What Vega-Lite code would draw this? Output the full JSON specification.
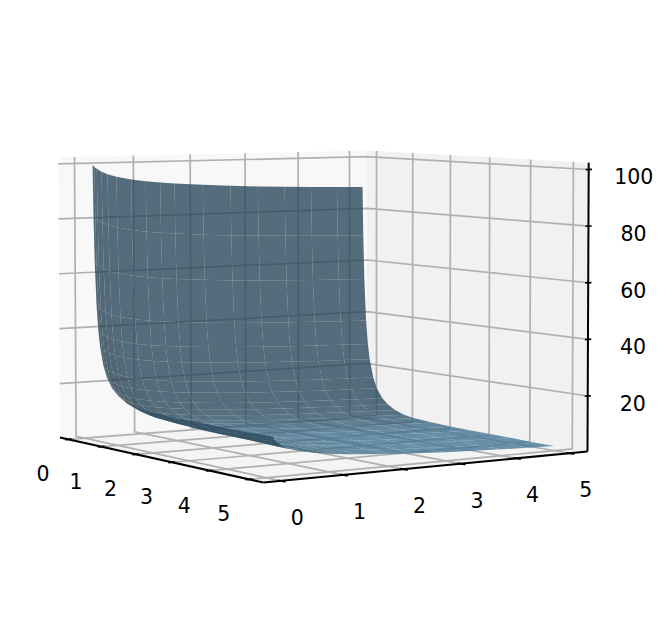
{"$schema":"https://vega.github.io/schema/vega-lite/v6.json","width":672,"height":623,"autosize":{"type":"fit","contains":"padding"},"padding":0,"background":"white","view":{"stroke":null},
"data":{"values":[
{"k":"P","g":"L","a":-0.27,"b":-0.27,"z":0.4},{"k":"P","g":"L","a":-0.27,"b":5.348,"z":0.4},{"k":"P","g":"L","a":-0.27,"b":5.348,"z":102.4},{"k":"P","g":"L","a":-0.27,"b":-0.27,"z":102.4},
{"k":"P","g":"R","a":-0.27,"b":5.348,"z":0.4},{"k":"P","g":"R","a":5.348,"b":5.348,"z":0.4},{"k":"P","g":"R","a":5.348,"b":5.348,"z":102.4},{"k":"P","g":"R","a":-0.27,"b":5.348,"z":102.4},
{"k":"P","g":"F","a":-0.27,"b":-0.27,"z":0.4},{"k":"P","g":"F","a":5.348,"b":-0.27,"z":0.4},{"k":"P","g":"F","a":5.348,"b":5.348,"z":0.4},{"k":"P","g":"F","a":-0.27,"b":5.348,"z":0.4},
{"k":"G","g":"a0","a":0,"b":-0.27,"z":0.4},{"k":"G","g":"a0","a":0,"b":5.348,"z":0.4},{"k":"G","g":"a0","a":0,"b":5.348,"z":102.4},
{"k":"G","g":"a1","a":1,"b":-0.27,"z":0.4},{"k":"G","g":"a1","a":1,"b":5.348,"z":0.4},{"k":"G","g":"a1","a":1,"b":5.348,"z":102.4},
{"k":"G","g":"a2","a":2,"b":-0.27,"z":0.4},{"k":"G","g":"a2","a":2,"b":5.348,"z":0.4},{"k":"G","g":"a2","a":2,"b":5.348,"z":102.4},
{"k":"G","g":"a3","a":3,"b":-0.27,"z":0.4},{"k":"G","g":"a3","a":3,"b":5.348,"z":0.4},{"k":"G","g":"a3","a":3,"b":5.348,"z":102.4},
{"k":"G","g":"a4","a":4,"b":-0.27,"z":0.4},{"k":"G","g":"a4","a":4,"b":5.348,"z":0.4},{"k":"G","g":"a4","a":4,"b":5.348,"z":102.4},
{"k":"G","g":"a5","a":5,"b":-0.27,"z":0.4},{"k":"G","g":"a5","a":5,"b":5.348,"z":0.4},{"k":"G","g":"a5","a":5,"b":5.348,"z":102.4},
{"k":"G","g":"b0","a":5.348,"b":0,"z":0.4},{"k":"G","g":"b0","a":-0.27,"b":0,"z":0.4},{"k":"G","g":"b0","a":-0.27,"b":0,"z":102.4},
{"k":"G","g":"b1","a":5.348,"b":1,"z":0.4},{"k":"G","g":"b1","a":-0.27,"b":1,"z":0.4},{"k":"G","g":"b1","a":-0.27,"b":1,"z":102.4},
{"k":"G","g":"b2","a":5.348,"b":2,"z":0.4},{"k":"G","g":"b2","a":-0.27,"b":2,"z":0.4},{"k":"G","g":"b2","a":-0.27,"b":2,"z":102.4},
{"k":"G","g":"b3","a":5.348,"b":3,"z":0.4},{"k":"G","g":"b3","a":-0.27,"b":3,"z":0.4},{"k":"G","g":"b3","a":-0.27,"b":3,"z":102.4},
{"k":"G","g":"b4","a":5.348,"b":4,"z":0.4},{"k":"G","g":"b4","a":-0.27,"b":4,"z":0.4},{"k":"G","g":"b4","a":-0.27,"b":4,"z":102.4},
{"k":"G","g":"b5","a":5.348,"b":5,"z":0.4},{"k":"G","g":"b5","a":-0.27,"b":5,"z":0.4},{"k":"G","g":"b5","a":-0.27,"b":5,"z":102.4},
{"k":"G","g":"z20","a":-0.27,"b":-0.27,"z":20},{"k":"G","g":"z20","a":-0.27,"b":5.348,"z":20},{"k":"G","g":"z20","a":5.348,"b":5.348,"z":20},
{"k":"G","g":"z40","a":-0.27,"b":-0.27,"z":40},{"k":"G","g":"z40","a":-0.27,"b":5.348,"z":40},{"k":"G","g":"z40","a":5.348,"b":5.348,"z":40},
{"k":"G","g":"z60","a":-0.27,"b":-0.27,"z":60},{"k":"G","g":"z60","a":-0.27,"b":5.348,"z":60},{"k":"G","g":"z60","a":5.348,"b":5.348,"z":60},
{"k":"G","g":"z80","a":-0.27,"b":-0.27,"z":80},{"k":"G","g":"z80","a":-0.27,"b":5.348,"z":80},{"k":"G","g":"z80","a":5.348,"b":5.348,"z":80},
{"k":"G","g":"z100","a":-0.27,"b":-0.27,"z":100},{"k":"G","g":"z100","a":-0.27,"b":5.348,"z":100},{"k":"G","g":"z100","a":5.348,"b":5.348,"z":100},
{"k":"X","g":"xa","a":-0.27,"b":-0.27,"z":0.4},{"k":"X","g":"xa","a":5.348,"b":-0.27,"z":0.4},
{"k":"X","g":"xb","a":5.348,"b":-0.27,"z":0.4},{"k":"X","g":"xb","a":5.348,"b":5.348,"z":0.4},
{"k":"X","g":"xz","a":5.348,"b":5.348,"z":0.4},{"k":"X","g":"xz","a":5.348,"b":5.348,"z":102.4},
{"k":"T","g":"ta0","a":0,"b":-0.33,"z":0.4},{"k":"T","g":"ta0","a":0,"b":-0.22,"z":0.4},
{"k":"T","g":"ta1","a":1,"b":-0.33,"z":0.4},{"k":"T","g":"ta1","a":1,"b":-0.22,"z":0.4},
{"k":"T","g":"ta2","a":2,"b":-0.33,"z":0.4},{"k":"T","g":"ta2","a":2,"b":-0.22,"z":0.4},
{"k":"T","g":"ta3","a":3,"b":-0.33,"z":0.4},{"k":"T","g":"ta3","a":3,"b":-0.22,"z":0.4},
{"k":"T","g":"ta4","a":4,"b":-0.33,"z":0.4},{"k":"T","g":"ta4","a":4,"b":-0.22,"z":0.4},
{"k":"T","g":"ta5","a":5,"b":-0.33,"z":0.4},{"k":"T","g":"ta5","a":5,"b":-0.22,"z":0.4},
{"k":"T","g":"tb0","a":5.28,"b":0,"z":0.4},{"k":"T","g":"tb0","a":5.46,"b":0,"z":0.4},
{"k":"T","g":"tb1","a":5.28,"b":1,"z":0.4},{"k":"T","g":"tb1","a":5.46,"b":1,"z":0.4},
{"k":"T","g":"tb2","a":5.28,"b":2,"z":0.4},{"k":"T","g":"tb2","a":5.46,"b":2,"z":0.4},
{"k":"T","g":"tb3","a":5.28,"b":3,"z":0.4},{"k":"T","g":"tb3","a":5.46,"b":3,"z":0.4},
{"k":"T","g":"tb4","a":5.28,"b":4,"z":0.4},{"k":"T","g":"tb4","a":5.46,"b":4,"z":0.4},
{"k":"T","g":"tb5","a":5.28,"b":5,"z":0.4},{"k":"T","g":"tb5","a":5.46,"b":5,"z":0.4},
{"k":"T","g":"tz20","a":5.348,"b":5.29,"z":20},{"k":"T","g":"tz20","a":5.348,"b":5.41,"z":20},
{"k":"T","g":"tz40","a":5.348,"b":5.29,"z":40},{"k":"T","g":"tz40","a":5.348,"b":5.41,"z":40},
{"k":"T","g":"tz60","a":5.348,"b":5.29,"z":60},{"k":"T","g":"tz60","a":5.348,"b":5.41,"z":60},
{"k":"T","g":"tz80","a":5.348,"b":5.29,"z":80},{"k":"T","g":"tz80","a":5.348,"b":5.41,"z":80},
{"k":"T","g":"tz100","a":5.348,"b":5.29,"z":100},{"k":"T","g":"tz100","a":5.348,"b":5.41,"z":100},
{"k":"La","l":"0","a":0,"b":-0.27,"z":0.4},{"k":"La","l":"1","a":1,"b":-0.27,"z":0.4},{"k":"La","l":"2","a":2,"b":-0.27,"z":0.4},{"k":"La","l":"3","a":3,"b":-0.27,"z":0.4},{"k":"La","l":"4","a":4,"b":-0.27,"z":0.4},{"k":"La","l":"5","a":5,"b":-0.27,"z":0.4},
{"k":"Lb","l":"0","a":5.348,"b":0,"z":0.4},{"k":"Lb","l":"1","a":5.348,"b":1,"z":0.4},{"k":"Lb","l":"2","a":5.348,"b":2,"z":0.4},{"k":"Lb","l":"3","a":5.348,"b":3,"z":0.4},{"k":"Lb","l":"4","a":5.348,"b":4,"z":0.4},{"k":"Lb","l":"5","a":5.348,"b":5,"z":0.4},
{"k":"Lz","l":"20","a":5.348,"b":5.348,"z":20},{"k":"Lz","l":"40","a":5.348,"b":5.348,"z":40},{"k":"Lz","l":"60","a":5.348,"b":5.348,"z":60},{"k":"Lz","l":"80","a":5.348,"b":5.348,"z":80},{"k":"Lz","l":"100","a":5.348,"b":5.348,"z":100},
{"a":0.1,"b":5,"z":88.8},{"a":0.1,"b":4.5,"z":89.1},{"a":0.1,"b":4,"z":89.4},{"a":0.1,"b":3.5,"z":89.8},{"a":0.1,"b":3,"z":90.2},{"a":0.1,"b":2.5,"z":90.7},{"a":0.1,"b":2,"z":91.4},{"a":0.1,"b":1.5,"z":92.2},{"a":0.1,"b":1.25,"z":92.7},{"a":0.1,"b":1,"z":93.3},{"a":0.1,"b":0.75,"z":94.1},{"a":0.1,"b":0.5,"z":95.2},{"a":0.1,"b":0.35,"z":96.2},{"a":0.1,"b":0.25,"z":97.2},{"a":0.1,"b":0.17,"z":98.3},{"a":0.1,"b":0.13,"z":99},{"a":0.1,"b":0.1,"z":99.7},
{"a":0.12,"b":5,"z":70.3},{"a":0.12,"b":4.5,"z":70.6},{"a":0.12,"b":4,"z":70.9},{"a":0.12,"b":3.5,"z":71.3},{"a":0.12,"b":3,"z":71.7},{"a":0.12,"b":2.5,"z":72.2},{"a":0.12,"b":2,"z":72.9},{"a":0.12,"b":1.5,"z":73.7},{"a":0.12,"b":1.25,"z":74.2},{"a":0.12,"b":1,"z":74.8},{"a":0.12,"b":0.75,"z":75.6},{"a":0.12,"b":0.5,"z":76.7},{"a":0.12,"b":0.35,"z":77.7},{"a":0.12,"b":0.25,"z":78.7},{"a":0.12,"b":0.17,"z":79.8},{"a":0.12,"b":0.13,"z":80.5},{"a":0.12,"b":0.1,"z":81.2},
{"a":0.15,"b":5,"z":53.6},{"a":0.15,"b":4.5,"z":53.9},{"a":0.15,"b":4,"z":54.2},{"a":0.15,"b":3.5,"z":54.6},{"a":0.15,"b":3,"z":55},{"a":0.15,"b":2.5,"z":55.5},{"a":0.15,"b":2,"z":56.2},{"a":0.15,"b":1.5,"z":57},{"a":0.15,"b":1.25,"z":57.5},{"a":0.15,"b":1,"z":58.1},{"a":0.15,"b":0.75,"z":58.9},{"a":0.15,"b":0.5,"z":60},{"a":0.15,"b":0.35,"z":61},{"a":0.15,"b":0.25,"z":62},{"a":0.15,"b":0.17,"z":63.1},{"a":0.15,"b":0.13,"z":63.8},{"a":0.15,"b":0.1,"z":64.5},
{"a":0.2,"b":5,"z":37.8},{"a":0.2,"b":4.5,"z":38.1},{"a":0.2,"b":4,"z":38.4},{"a":0.2,"b":3.5,"z":38.8},{"a":0.2,"b":3,"z":39.2},{"a":0.2,"b":2.5,"z":39.7},{"a":0.2,"b":2,"z":40.4},{"a":0.2,"b":1.5,"z":41.2},{"a":0.2,"b":1.25,"z":41.7},{"a":0.2,"b":1,"z":42.3},{"a":0.2,"b":0.75,"z":43.1},{"a":0.2,"b":0.5,"z":44.2},{"a":0.2,"b":0.35,"z":45.2},{"a":0.2,"b":0.25,"z":46.2},{"a":0.2,"b":0.17,"z":47.3},{"a":0.2,"b":0.13,"z":48},{"a":0.2,"b":0.1,"z":48.7},
{"a":0.25,"b":5,"z":28.9},{"a":0.25,"b":4.5,"z":29.2},{"a":0.25,"b":4,"z":29.5},{"a":0.25,"b":3.5,"z":29.9},{"a":0.25,"b":3,"z":30.3},{"a":0.25,"b":2.5,"z":30.8},{"a":0.25,"b":2,"z":31.5},{"a":0.25,"b":1.5,"z":32.3},{"a":0.25,"b":1.25,"z":32.8},{"a":0.25,"b":1,"z":33.4},{"a":0.25,"b":0.75,"z":34.2},{"a":0.25,"b":0.5,"z":35.3},{"a":0.25,"b":0.35,"z":36.3},{"a":0.25,"b":0.25,"z":37.3},{"a":0.25,"b":0.17,"z":38.4},{"a":0.25,"b":0.13,"z":39.1},{"a":0.25,"b":0.1,"z":39.8},
{"a":0.3,"b":5,"z":23.2},{"a":0.3,"b":4.5,"z":23.5},{"a":0.3,"b":4,"z":23.8},{"a":0.3,"b":3.5,"z":24.2},{"a":0.3,"b":3,"z":24.6},{"a":0.3,"b":2.5,"z":25.1},{"a":0.3,"b":2,"z":25.8},{"a":0.3,"b":1.5,"z":26.6},{"a":0.3,"b":1.25,"z":27.1},{"a":0.3,"b":1,"z":27.7},{"a":0.3,"b":0.75,"z":28.5},{"a":0.3,"b":0.5,"z":29.6},{"a":0.3,"b":0.35,"z":30.6},{"a":0.3,"b":0.25,"z":31.6},{"a":0.3,"b":0.17,"z":32.7},{"a":0.3,"b":0.13,"z":33.4},{"a":0.3,"b":0.1,"z":34.1},
{"a":0.4,"b":5,"z":16.4},{"a":0.4,"b":4.5,"z":16.7},{"a":0.4,"b":4,"z":17},{"a":0.4,"b":3.5,"z":17.4},{"a":0.4,"b":3,"z":17.8},{"a":0.4,"b":2.5,"z":18.3},{"a":0.4,"b":2,"z":19},{"a":0.4,"b":1.5,"z":19.8},{"a":0.4,"b":1.25,"z":20.3},{"a":0.4,"b":1,"z":20.9},{"a":0.4,"b":0.75,"z":21.7},{"a":0.4,"b":0.5,"z":22.8},{"a":0.4,"b":0.35,"z":23.8},{"a":0.4,"b":0.25,"z":24.8},{"a":0.4,"b":0.17,"z":25.9},{"a":0.4,"b":0.13,"z":26.6},{"a":0.4,"b":0.1,"z":27.3},
{"a":0.5,"b":5,"z":12.5},{"a":0.5,"b":4.5,"z":12.8},{"a":0.5,"b":4,"z":13.1},{"a":0.5,"b":3.5,"z":13.5},{"a":0.5,"b":3,"z":13.9},{"a":0.5,"b":2.5,"z":14.4},{"a":0.5,"b":2,"z":15.1},{"a":0.5,"b":1.5,"z":15.9},{"a":0.5,"b":1.25,"z":16.4},{"a":0.5,"b":1,"z":17},{"a":0.5,"b":0.75,"z":17.8},{"a":0.5,"b":0.5,"z":18.9},{"a":0.5,"b":0.35,"z":19.9},{"a":0.5,"b":0.25,"z":20.9},{"a":0.5,"b":0.17,"z":22},{"a":0.5,"b":0.13,"z":22.7},{"a":0.5,"b":0.1,"z":23.4},
{"a":0.65,"b":5,"z":9.1},{"a":0.65,"b":4.5,"z":9.4},{"a":0.65,"b":4,"z":9.7},{"a":0.65,"b":3.5,"z":10.1},{"a":0.65,"b":3,"z":10.5},{"a":0.65,"b":2.5,"z":11},{"a":0.65,"b":2,"z":11.7},{"a":0.65,"b":1.5,"z":12.5},{"a":0.65,"b":1.25,"z":13},{"a":0.65,"b":1,"z":13.6},{"a":0.65,"b":0.75,"z":14.4},{"a":0.65,"b":0.5,"z":15.5},{"a":0.65,"b":0.35,"z":16.5},{"a":0.65,"b":0.25,"z":17.5},{"a":0.65,"b":0.17,"z":18.6},{"a":0.65,"b":0.13,"z":19.3},{"a":0.65,"b":0.1,"z":20},
{"a":0.8,"b":5,"z":7.1},{"a":0.8,"b":4.5,"z":7.4},{"a":0.8,"b":4,"z":7.7},{"a":0.8,"b":3.5,"z":8.1},{"a":0.8,"b":3,"z":8.5},{"a":0.8,"b":2.5,"z":9},{"a":0.8,"b":2,"z":9.7},{"a":0.8,"b":1.5,"z":10.5},{"a":0.8,"b":1.25,"z":11},{"a":0.8,"b":1,"z":11.6},{"a":0.8,"b":0.75,"z":12.4},{"a":0.8,"b":0.5,"z":13.5},{"a":0.8,"b":0.35,"z":14.5},{"a":0.8,"b":0.25,"z":15.5},{"a":0.8,"b":0.17,"z":16.6},{"a":0.8,"b":0.13,"z":17.3},{"a":0.8,"b":0.1,"z":18},
{"a":1,"b":5,"z":5.4},{"a":1,"b":4.5,"z":5.7},{"a":1,"b":4,"z":6},{"a":1,"b":3.5,"z":6.4},{"a":1,"b":3,"z":6.8},{"a":1,"b":2.5,"z":7.3},{"a":1,"b":2,"z":8},{"a":1,"b":1.5,"z":8.8},{"a":1,"b":1.25,"z":9.3},{"a":1,"b":1,"z":9.9},{"a":1,"b":0.75,"z":10.7},{"a":1,"b":0.5,"z":11.8},{"a":1,"b":0.35,"z":12.8},{"a":1,"b":0.25,"z":13.8},{"a":1,"b":0.17,"z":14.9},{"a":1,"b":0.13,"z":15.6},{"a":1,"b":0.1,"z":16.3},
{"a":1.25,"b":5,"z":4.2},{"a":1.25,"b":4.5,"z":4.5},{"a":1.25,"b":4,"z":4.8},{"a":1.25,"b":3.5,"z":5.2},{"a":1.25,"b":3,"z":5.6},{"a":1.25,"b":2.5,"z":6.1},{"a":1.25,"b":2,"z":6.8},{"a":1.25,"b":1.5,"z":7.6},{"a":1.25,"b":1.25,"z":8.1},{"a":1.25,"b":1,"z":8.7},{"a":1.25,"b":0.75,"z":9.5},{"a":1.25,"b":0.5,"z":10.6},{"a":1.25,"b":0.35,"z":11.6},{"a":1.25,"b":0.25,"z":12.6},{"a":1.25,"b":0.17,"z":13.7},{"a":1.25,"b":0.13,"z":14.4},{"a":1.25,"b":0.1,"z":15.1},
{"a":1.5,"b":5,"z":3.5},{"a":1.5,"b":4.5,"z":3.8},{"a":1.5,"b":4,"z":4.1},{"a":1.5,"b":3.5,"z":4.5},{"a":1.5,"b":3,"z":4.9},{"a":1.5,"b":2.5,"z":5.4},{"a":1.5,"b":2,"z":6.1},{"a":1.5,"b":1.5,"z":6.9},{"a":1.5,"b":1.25,"z":7.4},{"a":1.5,"b":1,"z":8},{"a":1.5,"b":0.75,"z":8.8},{"a":1.5,"b":0.5,"z":9.9},{"a":1.5,"b":0.35,"z":10.9},{"a":1.5,"b":0.25,"z":11.9},{"a":1.5,"b":0.17,"z":13},{"a":1.5,"b":0.13,"z":13.7},{"a":1.5,"b":0.1,"z":14.4},
{"a":2,"b":5,"z":3},{"a":2,"b":4.5,"z":3.3},{"a":2,"b":4,"z":3.6},{"a":2,"b":3.5,"z":4},{"a":2,"b":3,"z":4.4},{"a":2,"b":2.5,"z":4.9},{"a":2,"b":2,"z":5.6},{"a":2,"b":1.5,"z":6.4},{"a":2,"b":1.25,"z":6.9},{"a":2,"b":1,"z":7.5},{"a":2,"b":0.75,"z":8.3},{"a":2,"b":0.5,"z":9.4},{"a":2,"b":0.35,"z":10.4},{"a":2,"b":0.25,"z":11.4},{"a":2,"b":0.17,"z":12.5},{"a":2,"b":0.13,"z":13.2},{"a":2,"b":0.1,"z":13.9},
{"a":2.5,"b":5,"z":2.7},{"a":2.5,"b":4.5,"z":3},{"a":2.5,"b":4,"z":3.3},{"a":2.5,"b":3.5,"z":3.7},{"a":2.5,"b":3,"z":4.1},{"a":2.5,"b":2.5,"z":4.6},{"a":2.5,"b":2,"z":5.3},{"a":2.5,"b":1.5,"z":6.1},{"a":2.5,"b":1.25,"z":6.6},{"a":2.5,"b":1,"z":7.2},{"a":2.5,"b":0.75,"z":8},{"a":2.5,"b":0.5,"z":9.1},{"a":2.5,"b":0.35,"z":10.1},{"a":2.5,"b":0.25,"z":11.1},{"a":2.5,"b":0.17,"z":12.2},{"a":2.5,"b":0.13,"z":12.9},{"a":2.5,"b":0.1,"z":13.6},
{"a":3,"b":5,"z":2.5},{"a":3,"b":4.5,"z":2.8},{"a":3,"b":4,"z":3.1},{"a":3,"b":3.5,"z":3.5},{"a":3,"b":3,"z":3.9},{"a":3,"b":2.5,"z":4.4},{"a":3,"b":2,"z":5.1},{"a":3,"b":1.5,"z":5.9},{"a":3,"b":1.25,"z":6.4},{"a":3,"b":1,"z":7},{"a":3,"b":0.75,"z":7.8},{"a":3,"b":0.5,"z":8.9},{"a":3,"b":0.35,"z":9.9},{"a":3,"b":0.25,"z":10.9},{"a":3,"b":0.17,"z":12},{"a":3,"b":0.13,"z":12.8},{"a":3,"b":0.1,"z":13.7},
{"a":3.5,"b":5,"z":2.4},{"a":3.5,"b":4.5,"z":2.7},{"a":3.5,"b":4,"z":3},{"a":3.5,"b":3.5,"z":3.4},{"a":3.5,"b":3,"z":3.8},{"a":3.5,"b":2.5,"z":4.3},{"a":3.5,"b":2,"z":5},{"a":3.5,"b":1.5,"z":5.8},{"a":3.5,"b":1.25,"z":6.3},{"a":3.5,"b":1,"z":6.9},{"a":3.5,"b":0.75,"z":7.7},{"a":3.5,"b":0.5,"z":8.8},{"a":3.5,"b":0.35,"z":9.8},{"a":3.5,"b":0.25,"z":10.8},{"a":3.5,"b":0.17,"z":11.9},{"a":3.5,"b":0.13,"z":12.7},{"a":3.5,"b":0.1,"z":13.6},
{"a":4,"b":5,"z":2.3},{"a":4,"b":4.5,"z":2.6},{"a":4,"b":4,"z":2.9},{"a":4,"b":3.5,"z":3.3},{"a":4,"b":3,"z":3.7},{"a":4,"b":2.5,"z":4.2},{"a":4,"b":2,"z":4.9},{"a":4,"b":1.5,"z":5.7},{"a":4,"b":1.25,"z":6.2},{"a":4,"b":1,"z":6.8},{"a":4,"b":0.75,"z":7.6},{"a":4,"b":0.5,"z":8.7},{"a":4,"b":0.35,"z":9.7},{"a":4,"b":0.25,"z":10.7},{"a":4,"b":0.17,"z":11.8},{"a":4,"b":0.13,"z":12.6},{"a":4,"b":0.1,"z":13.6},
{"a":4.5,"b":5,"z":2.1},{"a":4.5,"b":4.5,"z":2.4},{"a":4.5,"b":4,"z":2.7},{"a":4.5,"b":3.5,"z":3.1},{"a":4.5,"b":3,"z":3.5},{"a":4.5,"b":2.5,"z":4},{"a":4.5,"b":2,"z":4.7},{"a":4.5,"b":1.5,"z":5.5},{"a":4.5,"b":1.25,"z":6},{"a":4.5,"b":1,"z":6.6},{"a":4.5,"b":0.75,"z":7.4},{"a":4.5,"b":0.5,"z":8.5},{"a":4.5,"b":0.35,"z":9.5},{"a":4.5,"b":0.25,"z":10.5},{"a":4.5,"b":0.17,"z":11.7},{"a":4.5,"b":0.13,"z":12.6},{"a":4.5,"b":0.1,"z":13.7},
{"a":5,"b":5,"z":2},{"a":5,"b":4.5,"z":2.3},{"a":5,"b":4,"z":2.6},{"a":5,"b":3.5,"z":3},{"a":5,"b":3,"z":3.4},{"a":5,"b":2.5,"z":3.9},{"a":5,"b":2,"z":4.6},{"a":5,"b":1.5,"z":5.4},{"a":5,"b":1.25,"z":5.9},{"a":5,"b":1,"z":6.5},{"a":5,"b":0.75,"z":7.3},{"a":5,"b":0.5,"z":8.4},{"a":5,"b":0.35,"z":9.4},{"a":5,"b":0.25,"z":10.4},{"a":5,"b":0.17,"z":11.7},{"a":5,"b":0.13,"z":12.7},{"a":5,"b":0.1,"z":13.9}
]},
"transform":[
{"calculate":"0.048+0.178*datum.a","as":"u"},
{"calculate":"0.048+0.178*datum.b","as":"v"},
{"calculate":"(datum.z-0.4)/102","as":"t"},
{"calculate":"1-0.1207*datum.u+0.1002*datum.v","as":"w"},
{"calculate":"(171.7*datum.u+343.78*datum.v+60+(-1.7+1.7*datum.v+1.2*datum.u)*datum.t)/datum.w","as":"sx"},
{"calculate":"(-13.23*datum.u+17.995*datum.v+437.5+(-280.2-9.8*datum.v+7.1*datum.u)*datum.t)/datum.w","as":"sy"}
],
"encoding":{
"x":{"field":"sx","type":"quantitative","scale":{"domain":[0,672],"nice":false,"zero":false},"axis":null},
"y":{"field":"sy","type":"quantitative","scale":{"domain":[623,0],"nice":false,"zero":false},"axis":null}
},
"layer":[
{"transform":[{"filter":"datum.k=='P'"}],"mark":{"type":"line","stroke":null,"strokeWidth":0},"encoding":{"detail":{"field":"g"},"order":{"value":null},"fill":{"field":"g","type":"nominal","scale":{"domain":["L","R","F"],"range":["#f8f8f8","#f1f1f1","#f4f4f4"]},"legend":null}}},
{"transform":[{"filter":"datum.k=='G'"}],"mark":{"type":"line","stroke":"#b0b0b0","strokeWidth":1.7},"encoding":{"detail":{"field":"g"},"order":{"value":null}}},
{"transform":[{"filter":"datum.k=='X'"}],"mark":{"type":"line","stroke":"#000000","strokeWidth":2},"encoding":{"detail":{"field":"g"},"order":{"value":null}}},
{"transform":[{"filter":"datum.k=='T'"}],"mark":{"type":"line","stroke":"#000000","strokeWidth":1.7},"encoding":{"detail":{"field":"g"},"order":{"value":null}}},
{"transform":[{"filter":"!datum.k"},
{"window":[{"op":"dense_rank","as":"ia"}],"sort":[{"field":"a"}]},
{"window":[{"op":"dense_rank","as":"ib"}],"sort":[{"field":"b"}]},
{"calculate":"[0,1,2,3]","as":"dq"},{"flatten":["dq"]},
{"calculate":"datum.ia-((datum.dq==1||datum.dq==2)?1:0)","as":"qa"},
{"calculate":"datum.ib-(datum.dq>=2?1:0)","as":"qb"},
{"filter":"datum.qa>=1&&datum.qb>=1&&datum.qa<=19&&datum.qb<=16"},
{"calculate":"datum.qa*100+datum.qb","as":"q"},
{"joinaggregate":[{"op":"mean","field":"a","as":"ma"},{"op":"mean","field":"b","as":"mb"}],"groupby":["q"]},
{"calculate":"2.6*pow(datum.ma,-2.21)","as":"p"},
{"calculate":"0.5/(datum.mb*datum.mb)","as":"r"},
{"calculate":"(-0.667*datum.p-0.667*datum.r+0.333)/sqrt(datum.p*datum.p+datum.r*datum.r+1)","as":"s"},
{"calculate":"0.35+0.325*(datum.s+1)","as":"sh"},
{"calculate":"rgb(91*datum.sh,157*datum.sh,199*datum.sh)+''","as":"col"}
],"mark":{"type":"line","stroke":null,"strokeWidth":0,"fillOpacity":0.8},"encoding":{"detail":{"field":"q"},"order":{"field":"dq"},"fill":{"field":"col","type":"nominal","scale":null,"legend":null}}},
{"transform":[{"filter":"datum.k=='La'"}],"mark":{"type":"text","font":"DejaVu Sans","fontSize":20.5,"dx":-25.5,"dy":36,"align":"center","baseline":"middle","color":"#000000"},"encoding":{"text":{"field":"l"}}},
{"transform":[{"filter":"datum.k=='Lb'"}],"mark":{"type":"text","font":"DejaVu Sans","fontSize":20.5,"dx":16.5,"dy":38,"align":"center","baseline":"middle","color":"#000000"},"encoding":{"text":{"field":"l"}}},
{"transform":[{"filter":"datum.k=='Lz'"}],"mark":{"type":"text","font":"DejaVu Sans","fontSize":20.5,"dx":45,"dy":9,"align":"center","baseline":"middle","color":"#000000"},"encoding":{"text":{"field":"l"}}}
]}
